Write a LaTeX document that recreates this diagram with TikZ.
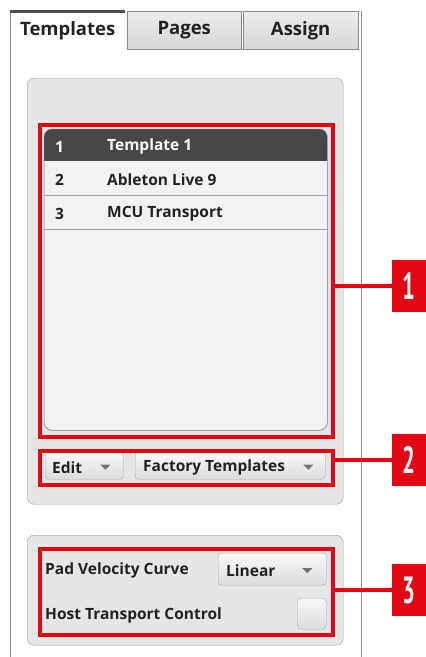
\documentclass[tikz,border=0pt]{standalone}
\usepackage{fontspec}
\setmainfont{Open Sans}
\newfontfamily\tagfont{PT Sans}
\usetikzlibrary{positioning,calc}

\definecolor{markred}{HTML}{E30613}
\definecolor{frameline}{HTML}{8C949C}
\definecolor{tabline}{HTML}{8A8A8A}
\definecolor{grpline}{HTML}{9C9C9C}
\definecolor{grpfill}{HTML}{E6E6E6}
\definecolor{listfill}{HTML}{F2F2F2}
\definecolor{listline}{HTML}{8E8E8E}
\definecolor{headfill}{HTML}{474747}
\definecolor{rowline}{HTML}{A0A0A0}
\definecolor{btnline}{HTML}{A8A8A8}
\definecolor{uitext}{HTML}{222222}

\begin{document}
\begin{tikzpicture}[x=1pt, y=-1pt,
  ui/.style={font=\bfseries\fontsize{15.5}{17}\selectfont, text=uitext},
  tabtext/.style={font=\bfseries\fontsize{18.5}{20}\selectfont, text=uitext},
  tabbox/.style={draw=tabline, top color=white!93!black, bottom color=white!84!black, minimum width=114, minimum height=38, inner sep=0, anchor=north west, tabtext},
  groupbox/.style={draw=grpline, fill=grpfill, rounded corners=7, inner sep=0, anchor=north west},
  hilite/.style={draw=markred, line width=4pt, inner sep=0, anchor=north west},
  tag/.style={fill=markred, text=white, minimum width=34, minimum height=52, inner sep=0, font=\tagfont\bfseries\fontsize{38}{38}\selectfont},
  combo/.style={draw=btnline, rounded corners=3, top color=white!98!black, bottom color=white!86!black, inner sep=0, anchor=north west},
  lbl/.style={ui, anchor=west, inner sep=0, yshift=-1.5pt},
  link/.style={markred, line width=3.5pt},
  droptip/.style={fill=black!55}
]
\useasboundingbox (0,0) rectangle (426,657);

% tabs
\node[tabtext, minimum width=115, minimum height=38, inner sep=0, anchor=north west] (templates) at (10,11) {Templates};
\node[tabbox] (pages) at (127,11) {Pages};
\node[tabbox, minimum width=115] (assign) at (243,11) {Assign};
\coordinate (frameTR) at (361,11);
\coordinate (frameBL) at (10,657);
\coordinate (frameBR) at (361,657);
\draw[frameline] (templates.north west) -- (frameBL);
\draw[frameline] (frameTR) -- (frameBR);
\draw[black!70, line width=3pt] (templates.north west) -- (templates.north east);

% template group
\node[groupbox, minimum width=316, minimum height=426] (grp1) at (27,78) {};
\node[draw=listline, fill=listfill, rounded corners=8, minimum width=283, minimum height=301, inner sep=0, anchor=north west] (list) at (44,129) {};
\begin{scope}
  \clip[rounded corners=8] (list.north west) rectangle (list.south east);
  \fill[headfill] (list.north west) rectangle ($(list.north east)+(0,32)$);
\end{scope}
\draw[listline, rounded corners=8] (list.north west) rectangle (list.south east);
\draw[rowline] ($(list.north west)+(0,66)$) -- ($(list.north east)+(0,66)$);
\draw[rowline] ($(list.north west)+(0,100)$) -- ($(list.north east)+(0,100)$);
\foreach \n/\name/\yy/\col in {1/Template 1/145/white, 2/Ableton Live 9/178.5/uitext, 3/MCU Transport/212/uitext}{
  \node[lbl, text=\col] (num\n) at (55,\yy) {\n};
  \node[lbl, text=\col] (name\n) at (107,\yy) {\name};
}

\node[combo, minimum width=78, minimum height=27] (edit) at (45,452) {};
\node[lbl, right=7 of edit.west] (editlbl) {Edit};
\fill[droptip] ($(edit.east)+(-23,-1)$) -- ++(10,0) -- ++(-5,5) -- cycle;
\node[combo, minimum width=190, minimum height=27] (factory) at (135,452) {};
\node[lbl, right=8 of factory.west] (factorylbl) {Factory Templates};
\fill[droptip] ($(factory.east)+(-22,-1)$) -- ++(10,0) -- ++(-5,5) -- cycle;

% options group
\node[groupbox, minimum width=316, minimum height=110] (grp2) at (27,535) {};
\node[lbl] (padlbl) at (45,569) {Pad Velocity Curve};
\node[lbl] (hostlbl) at (45,614) {Host Transport Control};
\node[combo, minimum width=108, minimum height=32] (curve) at (218,553) {};
\node[lbl, right=8 of curve.west] (curvelbl) {Linear};
\fill[droptip] ($(curve.east)+(-24,-1)$) -- ++(10,0) -- ++(-5,5) -- cycle;
\node[combo, rounded corners=4, minimum width=29, minimum height=31] (hostbox) at (297,598) {};

% highlights
\node[hilite, minimum width=293, minimum height=312] (hl1) at (37.5,123) {};
\node[hilite, minimum width=293, minimum height=34] (hl2) at (37.5,448.5) {};
\node[hilite, minimum width=293, minimum height=86] (hl3) at (37.5,547) {};

\node[tag] (tag1) at (409,286) {\scalebox{0.6}[1]{1}};
\node[tag] (tag2) at (409,460) {\scalebox{0.6}[1]{2}};
\node[tag] (tag3) at (409,590) {\scalebox{0.6}[1]{3}};

\draw[link] (tag1.west) -- (tag1.west -| hl1.east);
\draw[link] (tag2.west) -- (tag2.west -| hl2.east);
\draw[link] (tag3.west) -- (tag3.west -| hl3.east);
\end{tikzpicture}
\end{document}
